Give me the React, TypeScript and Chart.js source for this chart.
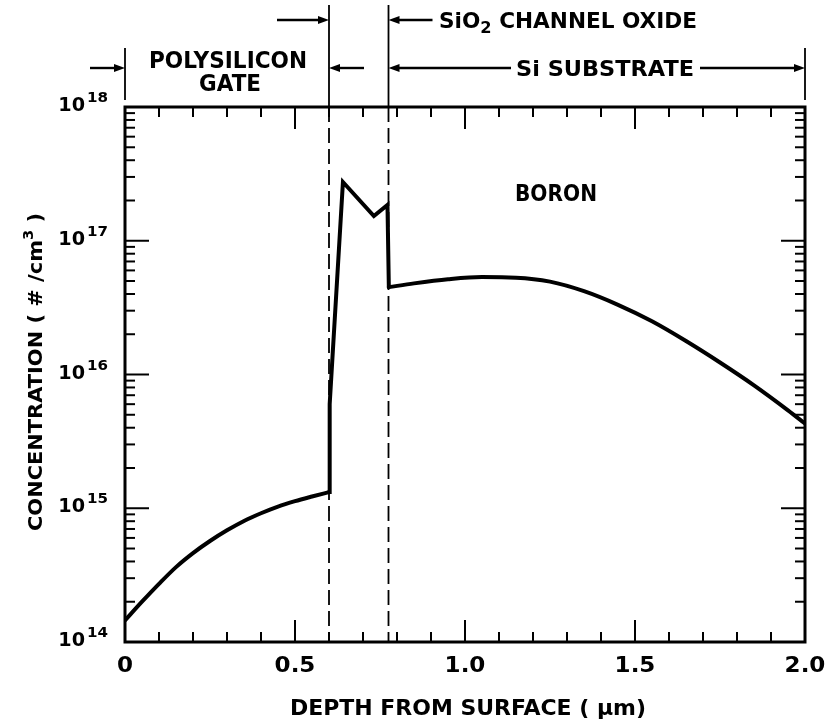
import React, { useEffect, useRef } from "react";
import { Chart, registerables } from "chart.js";

Chart.register(...registerables);

// ---- data ----
// polysilicon gate layer
const gateDepthUm = [0, 0.05, 0.1, 0.15, 0.2, 0.25, 0.3, 0.35, 0.4, 0.45, 0.5, 0.55, 0.6];
const gateConc = [1.45e14, 2.0e14, 2.72e14, 3.63e14, 4.62e14, 5.69e14, 6.84e14, 8.04e14, 9.18e14, 1.03e15, 1.13e15, 1.224e15, 1.32e15];
// SiO2 channel oxide layer
const oxideDepthUm = [0.6, 0.602, 0.641, 0.732, 0.772, 0.776];
const oxideConc = [1.32e15, 6.0e15, 2.75e17, 1.53e17, 1.85e17, 4.5e16];
// Si substrate
const substrateDepthUm = [0.776, 0.85, 0.95, 1.05, 1.15, 1.25, 1.35, 1.45, 1.55, 1.65, 1.75, 1.85, 1.95, 2.0];
const substrateConc = [4.5e16, 4.8e16, 5.15e16, 5.35e16, 5.3e16, 4.95e16, 4.2e16, 3.32e16, 2.5e16, 1.78e16, 1.23e16, 8.3e15, 5.4e15, 4.3e15];

const xTickValues = [0, 0.5, 1.0, 1.5, 2.0];
const xTickLabels = ["0", "0.5", "1.0", "1.5", "2.0"];
const yDecadeExponents = [14, 15, 16, 17, 18];
const layerBoundaries = [0.6, 0.775];
const seriesLabel = "BORON";

const FONT_FAMILY = '"DejaVu Sans", "Liberation Sans", sans-serif';
const FONT_WEIGHT = "bold";
const CAP = 0.729;

type Run = { t: string; s?: number; dy?: number };

function drawRuns(
  ctx: CanvasRenderingContext2D,
  runs: Run[],
  x: number,
  baseline: number,
  capH: number,
  align: "left" | "center" | "right",
  width?: number,
  sxDefault = 1
) {
  const size = capH / CAP;
  let total = 0;
  const widths = runs.map((r) => {
    ctx.font = `${FONT_WEIGHT} ${size * (r.s ?? 1)}px ${FONT_FAMILY}`;
    const w = ctx.measureText(r.t).width;
    total += w;
    return w;
  });
  const sx = width ? width / total : sxDefault;
  const drawnW = total * sx;
  const start = align === "left" ? x : align === "center" ? x - drawnW / 2 : x - drawnW;
  ctx.save();
  ctx.translate(start, baseline);
  ctx.scale(sx, 1);
  ctx.textAlign = "left";
  ctx.textBaseline = "alphabetic";
  let cx = 0;
  runs.forEach((r, i) => {
    ctx.font = `${FONT_WEIGHT} ${size * (r.s ?? 1)}px ${FONT_FAMILY}`;
    ctx.fillText(r.t, cx, (r.dy ?? 0) * size);
    cx += widths[i];
  });
  ctx.restore();
}

function line(ctx: CanvasRenderingContext2D, x1: number, y1: number, x2: number, y2: number) {
  ctx.beginPath();
  ctx.moveTo(x1, y1);
  ctx.lineTo(x2, y2);
  ctx.stroke();
}

function arrow(ctx: CanvasRenderingContext2D, xFrom: number, y: number, xTo: number) {
  const dir = xTo > xFrom ? 1 : -1;
  ctx.lineWidth = 2.4;
  line(ctx, xFrom, y, xTo - dir * 6, y);
  ctx.beginPath();
  ctx.moveTo(xTo, y);
  ctx.lineTo(xTo - dir * 11, y - 4);
  ctx.lineTo(xTo - dir * 11, y + 4);
  ctx.closePath();
  ctx.fill();
}

const overlay = {
  id: "overlay",
  beforeDraw(chart: any) {
    const ctx = chart.ctx as CanvasRenderingContext2D;
    ctx.save();
    ctx.fillStyle = "#fff";
    ctx.fillRect(0, 0, chart.width, chart.height);
    ctx.restore();
  },
  afterDraw(chart: any) {
    const ctx = chart.ctx as CanvasRenderingContext2D;
    const xs = chart.scales.x;
    const ys = chart.scales.y;
    const { left, right, top, bottom } = chart.chartArea;
    ctx.save();
    ctx.strokeStyle = "#000";
    ctx.fillStyle = "#000";
    ctx.lineCap = "butt";

    // layer boundaries: dashed inside, solid above
    ctx.lineWidth = 1.8;
    layerBoundaries.forEach((b) => {
      const px = xs.getPixelForValue(b);
      ctx.setLineDash([15, 6]);
      line(ctx, px, top, px, bottom);
      ctx.setLineDash([]);
      line(ctx, px, 5, px, top);
    });
    // end markers above
    [xs.min, xs.max].forEach((v: number) => {
      const px = xs.getPixelForValue(v);
      line(ctx, px, 48, px, 100);
    });

    // x ticks (inward, top and bottom)
    ctx.lineWidth = 2;
    for (let i = 1; i < 20; i++) {
      const v = i / 10;
      const px = xs.getPixelForValue(v);
      const len = i % 5 === 0 ? 22 : 10;
      line(ctx, px, bottom, px, bottom - len);
      line(ctx, px, top, px, top + len);
    }
    // y ticks (inward, left and right)
    yDecadeExponents.forEach((d) => {
      if (d >= 18) return;
      for (let k = 2; k <= 9; k++) {
        const py = ys.getPixelForValue(k * Math.pow(10, d));
        line(ctx, left, py, left + 10, py);
        line(ctx, right, py, right - 10, py);
      }
      if (d > 14) {
        const py = ys.getPixelForValue(Math.pow(10, d));
        line(ctx, left, py, left + 24, py);
        line(ctx, right, py, right - 24, py);
      }
    });

    // frame
    ctx.lineWidth = 3;
    ctx.strokeRect(left, top, right - left, bottom - top);

    // y tick labels 10^n
    yDecadeExponents.forEach((d) => {
      const py = ys.getPixelForValue(Math.pow(10, d));
      drawRuns(ctx, [{ t: "10" }], 85, py + 4, 14, "right", undefined, 1.0);
      drawRuns(ctx, [{ t: String(d) }], 108, py - 5, 10.5, "right", undefined, 1.05);
    });

    // x tick labels
    xTickValues.forEach((v, i) => {
      const px = xs.getPixelForValue(v);
      drawRuns(ctx, [{ t: xTickLabels[i] }], px, 672, 15, "center", undefined, 1.12);
    });

    // axis titles
    drawRuns(ctx, [{ t: "DEPTH FROM SURFACE ( \u00b5m)" }], 468, 715, 15, "center", 356);
    ctx.save();
    ctx.translate(35, 372);
    ctx.rotate(-Math.PI / 2);
    drawRuns(
      ctx,
      [{ t: "CONCENTRATION ( # /cm" }, { t: "3", s: 0.7, dy: -0.45 }, { t: " )" }],
      0,
      7,
      14,
      "center",
      318
    );
    ctx.restore();

    // series label
    drawRuns(ctx, [{ t: seriesLabel }], 556, 201, 17, "center", 82);

    // layer annotations
    const x0 = xs.getPixelForValue(xs.min);
    const x2 = xs.getPixelForValue(xs.max);
    const xb1 = xs.getPixelForValue(layerBoundaries[0]);
    const xb2 = xs.getPixelForValue(layerBoundaries[1]);
    // row 1: SiO2 channel oxide
    arrow(ctx, xb1 - 52, 20, xb1);
    arrow(ctx, xb2 + 44, 20, xb2);
    drawRuns(
      ctx,
      [{ t: "SiO" }, { t: "2", s: 0.75, dy: 0.25 }, { t: " CHANNEL OXIDE" }],
      439,
      28,
      15,
      "left",
      258
    );
    // row 2
    arrow(ctx, x0 - 35, 68, x0);
    arrow(ctx, xb1 + 35, 68, xb1);
    arrow(ctx, 511, 68, xb2);
    arrow(ctx, 700, 68, x2);
    drawRuns(ctx, [{ t: "Si SUBSTRATE" }], 516, 76, 16, "left", 178);
    drawRuns(ctx, [{ t: "POLYSILICON" }], 228, 68, 17, "center", 158);
    drawRuns(ctx, [{ t: "GATE" }], 230, 91, 17, "center", 62);

    ctx.restore();
  },
};

function toPoints(xs: number[], ys: number[]) {
  return xs.map((x, i) => ({ x, y: ys[i] }));
}

export default function App() {
  const canvasRef = useRef<HTMLCanvasElement | null>(null);

  useEffect(() => {
    const canvas = canvasRef.current;
    if (!canvas) return;
    const common = {
      borderColor: "#000",
      borderWidth: 4,
      pointRadius: 0,
      fill: false,
      borderJoinStyle: "miter" as const,
      borderCapStyle: "round" as const,
    };
    const chart = new Chart(canvas, {
      type: "line",
      data: {
        datasets: [
          { ...common, label: seriesLabel, data: toPoints(gateDepthUm, gateConc), cubicInterpolationMode: "monotone" },
          { ...common, label: seriesLabel, data: toPoints(oxideDepthUm, oxideConc), tension: 0 },
          { ...common, label: seriesLabel, data: toPoints(substrateDepthUm, substrateConc), cubicInterpolationMode: "monotone" },
        ],
      },
      options: {
        responsive: false,
        animation: false,
        devicePixelRatio: 1,
        events: [],
        layout: { padding: { left: 125, right: 25, top: 107, bottom: 82 } },
        plugins: { legend: { display: false }, tooltip: { enabled: false } },
        scales: {
          x: { type: "linear", min: 0, max: 2, display: false },
          y: { type: "logarithmic", min: 1e14, max: 1e18, display: false },
        },
      },
      plugins: [overlay],
    });
    return () => chart.destroy();
  }, []);

  return (
    <div style={{ position: "fixed", left: 0, top: 0, width: 830, height: 724, background: "#fff" }}>
      <canvas ref={canvasRef} width={830} height={724} style={{ display: "block" }} />
    </div>
  );
}
